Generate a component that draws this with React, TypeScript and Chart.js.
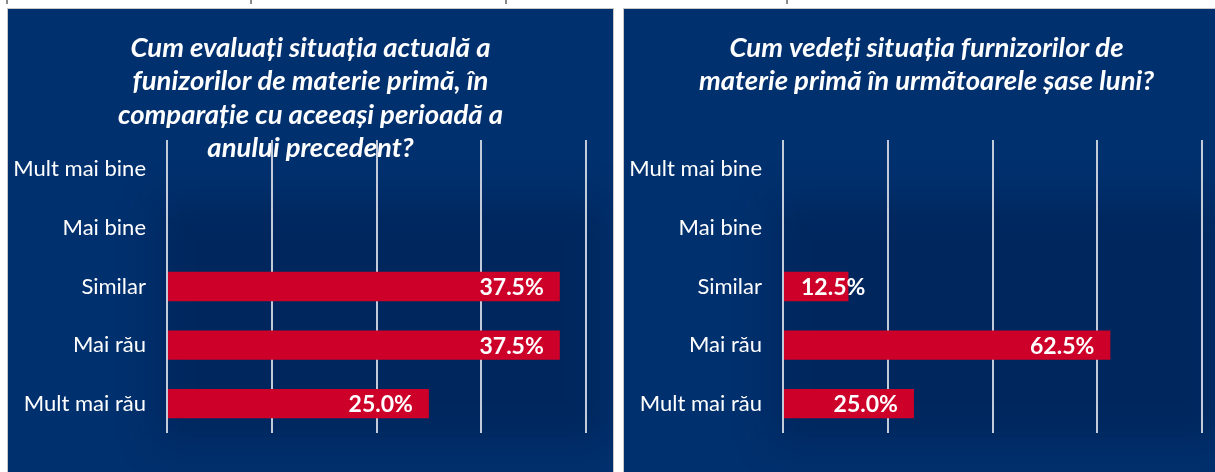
import React, { useEffect, useRef } from "react";
import { Chart, registerables } from "chart.js";

Chart.register(...registerables);

const categories = ["Mult mai bine", "Mai bine", "Similar", "Mai rău", "Mult mai rău"];
const currentValues = [0, 0, 37.5, 37.5, 25.0];
const outlookValues = [0, 0, 12.5, 62.5, 25.0];
const currentTitle = [
  "Cum evaluați situația actuală a",
  "funizorilor de materie primă, în",
  "comparație cu aceeași perioadă a",
  "anului precedent?",
];
const outlookTitle = ["Cum vedeți situația furnizorilor de", "materie primă în următoarele șase luni?"];
const currentMax = 40;
const currentStep = 10;
const outlookMax = 80;
const outlookStep = 20;

const PANEL_BG = "#00306E";
const BAR_RED = "#CC0029";
const GRID = "rgba(205,212,224,0.95)";
const LABEL_FONT = "Lato";

type PanelProps = { title: string[]; values: number[]; max: number; step: number; left: number };

function Panel({ title, values, max, step, left }: PanelProps) {
  const ref = useRef<HTMLCanvasElement | null>(null);
  useEffect(() => {
    if (!ref.current) return;
    const titlePlugin = {
      id: "panelTitle",
      beforeDraw(chart: any) {
        const ctx = chart.ctx;
        const ca = chart.chartArea;
        // soft shadow behind plot
        ctx.save();
        ctx.filter = "blur(18px)";
        ctx.fillStyle = "rgba(0,22,62,0.35)";
        ctx.fillRect(ca.left - 10, ca.top + 60, ca.right - ca.left + 30, ca.bottom - ca.top - 50);
        ctx.restore();
        ctx.save();
        ctx.fillStyle = "#ffffff";
        ctx.font = "italic bold 27.5px Lato";
        ctx.textAlign = "center";
        ctx.textBaseline = "alphabetic";
        const cx = chart.width / 2;
        title.forEach((line, i) => {
          ctx.fillText(line, cx, 47.5 + i * 33.6);
        });
        ctx.restore();
      },
    };
    const labelPlugin = {
      id: "barLabels",
      afterDatasetsDraw(chart: any) {
        const ctx = chart.ctx;
        const meta = chart.getDatasetMeta(0);
        ctx.save();
        ctx.fillStyle = "#ffffff";
        ctx.font = "bold 23px " + LABEL_FONT;
        ctx.textBaseline = "middle";
        meta.data.forEach((bar: any, i: number) => {
          const v = values[i];
          if (!v) return;
          const txt = v.toFixed(1) + "%";
          const w = ctx.measureText(txt).width;
          const end = bar.x;
          const base = bar.base;
          if (end - 16 - w >= base + 16) {
            ctx.textAlign = "right";
            ctx.fillText(txt, end - 16, bar.y + 1);
          } else {
            ctx.textAlign = "left";
            ctx.fillText(txt, base + 17, bar.y + 1);
          }
        });
        ctx.restore();
      },
    };
    const chart = new Chart(ref.current, {
      type: "bar",
      data: {
        labels: categories,
        datasets: [
          {
            data: values,
            backgroundColor: BAR_RED,
            borderWidth: 0,
            barPercentage: 0.5,
            categoryPercentage: 1,
          },
        ],
      },
      options: {
        indexAxis: "y",
        animation: false,
        responsive: false,
        maintainAspectRatio: false,
        layout: { padding: { left: 0, right: 27, top: 131, bottom: 39 } },
        plugins: { legend: { display: false }, tooltip: { enabled: false }, title: { display: false } },
        scales: {
          x: {
            min: 0,
            max: max,
            ticks: { display: false, stepSize: step },
            grid: { color: GRID, lineWidth: 2, drawTicks: false },
            border: { display: false },
          },
          y: {
            grid: { display: false, drawTicks: false },
            border: { display: false },
            ticks: {
              color: "#ffffff",
              padding: 21,
              font: { family: LABEL_FONT, size: 22 },
            },
            afterFit(scale: any) {
              scale.width = 159;
            },
          },
        },
      },
      plugins: [titlePlugin, labelPlugin],
    } as any);
    return () => chart.destroy();
  }, [title, values, max, step]);
  return (
    <div
      style={{
        position: "absolute",
        left,
        top: 8,
        width: 607,
        height: 470,
        boxSizing: "border-box",
        border: "1px solid #c8c8c8",
        background: PANEL_BG,
        overflow: "hidden",
      }}
    >
      <canvas ref={ref} width={605} height={463} style={{ display: "block" }} />
    </div>
  );
}

export default function App() {
  const marks = [7, 251, 506, 787];
  return (
    <div
      style={{
        position: "fixed",
        left: 0,
        top: 0,
        width: 1215,
        height: 472,
        overflow: "hidden",
        background: "#ffffff",
      }}
    >
      {marks.map((x) => (
        <div key={x} style={{ position: "absolute", left: x - 1, top: 0, width: 2, height: 4, background: "#8a8a8a" }} />
      ))}
      <Panel title={currentTitle} values={currentValues} max={currentMax} step={currentStep} left={7} />
      <Panel title={outlookTitle} values={outlookValues} max={outlookMax} step={outlookStep} left={623} />
    </div>
  );
}
